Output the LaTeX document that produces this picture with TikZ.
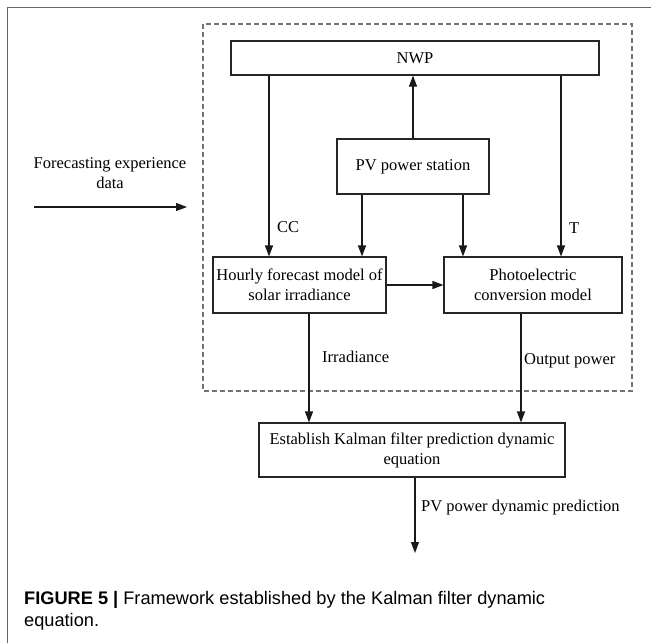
\documentclass[tikz,border=0pt]{standalone}
\usepackage{fontspec}
\setmainfont{Liberation Serif}
\newfontfamily\capfont{Liberation Sans}
\usetikzlibrary{arrows.meta,calc}
\begin{document}
\begin{tikzpicture}[x=1pt,y=-1pt,
  box/.style={draw=black!85,line width=1.1pt,minimum width=#1,inner sep=0pt,align=center,font=\fontsize{16.5}{20}\selectfont},
  arr/.style={line width=1.1pt,draw=black!90,-{Triangle[length=11pt,width=8pt]}},
  lbl/.style={inner sep=0pt,anchor=west,font=\fontsize{16.5}{20}\selectfont}]
\useasboundingbox (0,0) rectangle (651,643);
% outer frame
\draw[line width=1.3pt,color=black!60] (7.5,643) -- (7.5,7.5) -- (651,7.5);
% dashed group
\draw[line width=1.1pt,color=black!55,dash pattern=on 5pt off 3pt] (203,24) rectangle (632,391);
% nodes
\node[box=368pt,minimum height=34pt] (nwp) at (415,58) {NWP};
\node[box=152pt,minimum height=55pt] (pv) at (413,166.5) {PV power station};
\node[box=173pt,minimum height=56pt] (hour) at (299.5,285) {Hourly forecast model of\\solar irradiance};
\node[box=178pt,minimum height=56pt] (photo) at (533,285) {Photoelectric\\conversion model};
\node[box=306pt,minimum height=54pt] (kal) at (412,450) {Establish Kalman filter prediction dynamic\\equation};
% x positions
\coordinate (xcc) at (269,0);
\coordinate (xpl) at (362,0);
\coordinate (xpr) at (463,0);
\coordinate (xt) at (561,0);
\coordinate (xir) at (309,0);
\coordinate (xop) at (521,0);
\coordinate (xup) at (413,0);
\coordinate (xk) at (415,0);
\coordinate (fs) at (34,207);
\coordinate (fe) at (187,207);
\coordinate (kend) at (415,553);
% connectors
\draw[arr] (pv.north -| xup) -- (nwp.south -| xup);
\draw[arr] (nwp.south -| xcc) -- (hour.north -| xcc);
\draw[arr] (pv.south -| xpl) -- (hour.north -| xpl);
\draw[arr] (pv.south -| xpr) -- (photo.north -| xpr);
\draw[arr] (nwp.south -| xt) -- (photo.north -| xt);
\draw[arr] (hour.east) -- (photo.west);
\draw[arr] (hour.south -| xir) -- (kal.north -| xir);
\draw[arr] (photo.south -| xop) -- (kal.north -| xop);
\draw[arr] (kal.south -| xk) -- (kend);
\draw[arr] (fs) -- (fe);
% labels
\node[lbl] (lcc) at (277,227) {CC};
\node[lbl] (lt) at (569,228) {T};
\node[lbl] (lir) at (322,357) {Irradiance};
\node[lbl] (lop) at (524,361) {Output power};
\node[lbl] (lpv) at (421,508) {PV power dynamic prediction};
\node[inner sep=0pt,align=center,font=\fontsize{16.5}{20}\selectfont] (lfc) at (110,173) {Forecasting experience\\data};
% caption
\node[inner sep=0pt,anchor=west,align=left,font=\capfont\fontsize{18.2}{22}\selectfont] (cap) at (24,611)
  {\textbf{FIGURE 5 |} Framework established by the Kalman filter dynamic\\equation.};
\end{tikzpicture}
\end{document}
